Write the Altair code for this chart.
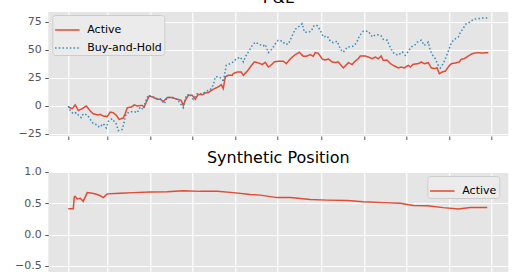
import altair as alt
import pandas as pd

# x values are days counted from 1 February; gridlines fall on month starts
month_starts = [0, 28, 59, 89, 120, 150, 181, 212, 242, 273, 303]

active_day = [0, 2.9, 5.0, 7.2, 10.0, 12.9, 15.8, 17.9, 20.8, 22.9,
              25.1, 27.9, 30.1, 32.2, 34.4, 36.5, 39.4, 40.8, 42.3, 45.1,
              47.3, 49.4, 53.0, 54.4, 55.9, 58.0, 60.9, 63.8, 65.9, 68.1,
              70.9, 74.5, 78.1, 80.9, 82.4, 83.8, 86.0, 88.8, 91.0, 93.1,
              96.0, 98.1, 100.3, 103.9, 107.4, 109.6, 111.0, 112.5, 114.6, 117.5,
              118.2, 121.1, 123.9, 125.4, 128.2, 130.4, 133.2, 136.1, 139.0, 141.1,
              143.3, 145.4, 147.6, 150.4, 154.0, 156.2, 159.0, 162.6, 165.5, 168.3,
              170.5, 173.4, 175.5, 176.9, 179.1, 181.9, 184.1, 186.2, 189.1, 191.3,
              193.4, 197.0, 198.4, 200.6, 203.4, 204.9, 207.7, 209.2, 212.8, 214.9,
              217.8, 219.9, 222.1, 224.2, 225.6, 228.5, 230.7, 232.8, 236.4, 238.5,
              240.7, 243.6, 245.0, 247.1, 250.7, 252.9, 255.0, 257.9, 260.0, 262.2,
              264.3, 265.8, 267.9, 270.1, 272.2, 274.4, 277.2, 280.1, 281.5, 283.7,
              286.5, 289.4, 293.0, 296.6, 300.9]
active_pnl = [-1, -2.4, 1, -4, -2.4, 0, -4.5, -7, -8, -7.5,
              -9, -9.5, -5.4, -6, -8.3, -12, -10.7, -6.8, -1.5, -1,
              1, 0, 0.5, -1, 3.6, 9, 7.7, 6, 6, 4,
              7.5, 7.5, 6, 5, 0.5, 5, 9.5, 9.5, 6, 10.4,
              10, 11.6, 12, 15, 17, 19, 15.5, 26, 27.4, 27.4,
              29, 30.4, 30.4, 27.4, 31, 34.8, 39.3, 38.5, 37, 39,
              34.8, 36.6, 39.3, 40, 40, 37.8, 42, 45.8, 48, 44.4,
              44.4, 45.8, 44.4, 47.6, 47, 42, 41, 42, 39.3, 38.7,
              39.3, 34, 35.7, 38.7, 37, 39.3, 42.2, 44.6, 44.6, 43.7,
              42.2, 43.7, 42.2, 44.6, 40.8, 40.8, 37.8, 36.3, 34, 34.8,
              34, 36.3, 34.8, 37.2, 37.8, 39.3, 37.8, 38.7, 34, 33.3,
              34, 28.8, 30.4, 31, 34.8, 37.8, 38.3, 39.3, 41.7, 42.2,
              44.6, 46.7, 47.6, 47.3, 47.6]

bh_day = [0, 1.4, 3.6, 5.7, 7.2, 9.3, 10.7, 13.6, 15.8, 17.9,
          20.8, 22.2, 25.1, 27.2, 28.7, 31.5, 33.0, 34.4, 35.8, 38.7,
          40.1, 41.5, 43.0, 45.8, 47.3, 49.4, 51.6, 53.7, 55.2, 57.3,
          60.9, 63.8, 65.9, 68.8, 70.9, 74.5, 78.1, 82.4, 84.5, 87.4,
          89.5, 92.4, 96.0, 98.1, 100.3, 101.7, 103.9, 105.3, 107.4, 110.3,
          111.0, 113.2, 116.0, 118.2, 120.3, 123.2, 125.4, 126.8, 128.9, 131.8,
          134.0, 136.8, 139.7, 141.1, 143.3, 146.1, 148.3, 150.4, 153.3, 155.4,
          157.6, 160.5, 162.6, 164.8, 167.6, 169.1, 171.9, 174.1, 176.2, 178.4,
          180.5, 182.7, 185.5, 187.7, 189.8, 192.7, 194.8, 197.0, 199.9, 203.4,
          204.9, 207.0, 208.5, 211.3, 214.9, 217.8, 219.9, 222.1, 224.2, 225.6,
          228.5, 229.9, 231.4, 233.5, 236.4, 239.3, 241.4, 243.6, 245.7, 247.9,
          250.7, 252.9, 255.0, 257.9, 259.3, 260.7, 262.9, 265.0, 266.5, 268.6,
          270.1, 272.2, 274.4, 276.5, 279.4, 280.8, 283.0, 285.1, 288.0, 290.1,
          293.7, 296.6, 300.1]
bh_pnl = [0, -4, -7, -6, -8, -10.4, -7, -8, -12, -15.8,
          -17, -19, -15.8, -19.6, -13.7, -11.3, -14, -16, -22, -21,
          -14, -7, -6, -5, -5, -6, -1, -3.3, 3.6, 9.5,
          8, 6.5, 6.5, 2, 7.5, 7.5, 6, -1.5, 9.5, 10.4,
          6, 11, 11, 12.5, 14, 14.6, 18.5, 26, 26, 24.4,
          21.4, 36.3, 37.8, 39.3, 42, 43.7, 39.3, 43.7, 48, 54,
          57, 55, 53.6, 55, 47.6, 51, 55.6, 58.7, 58, 55,
          55.3, 63, 68.5, 70.5, 73.5, 66, 65.7, 67, 72, 71.7,
          67.6, 61.6, 62.5, 57.8, 56.6, 57.8, 51, 48, 52.7, 53,
          54, 57.8, 62.5, 66.7, 66.7, 61.6, 63.5, 63.5, 62.5, 59.5,
          58.7, 54.2, 50.6, 46.7, 45.3, 48.2, 45.3, 48.8, 52.7, 54,
          57.8, 58.7, 54, 57, 49.7, 45.8, 42.2, 36.3, 34, 37.8,
          42.2, 48.8, 56.5, 59.5, 61.6, 65.5, 69.6, 73.5, 75, 77.4,
          78, 78.5, 78.5]

pos_day = [0, 3.6, 4.3, 5.0, 6.4, 8.6, 10.7, 13.6, 17.2, 20.8,
           22.9, 25.1, 27.9, 37.2, 46.6, 58.7, 70.9, 82.4, 94.6, 106.7,
           118.2, 130.4, 137.5, 149.7, 159.0, 173.4, 185.5, 199.9, 211.3, 225.6,
           237.8, 247.1, 257.2, 268.6, 279.4, 288.0, 300.1]
pos_val = [0.41, 0.41, 0.60, 0.61, 0.57, 0.58, 0.53, 0.67, 0.66, 0.64,
           0.62, 0.59, 0.65, 0.66, 0.67, 0.68, 0.685, 0.70, 0.69, 0.69,
           0.67, 0.64, 0.63, 0.59, 0.59, 0.56, 0.55, 0.545, 0.525, 0.51,
           0.50, 0.465, 0.46, 0.43, 0.41, 0.43, 0.43]

series_names = ["Active", "Buy-and-Hold"]
RED = "#E24A33"
BLUE = "#348ABD"
FONT = "DejaVu Sans"

pnl_df = pd.concat([
    pd.DataFrame({"day": active_day, "pnl": active_pnl, "series": "Active"}),
    pd.DataFrame({"day": bh_day, "pnl": bh_pnl, "series": "Buy-and-Hold"}),
], ignore_index=True)
pos_df = pd.DataFrame({"day": pos_day, "pos": pos_val, "series": "Active"})

x_enc = alt.X("day:Q",
              scale=alt.Scale(domain=[-14.3, 315.2], nice=False, zero=False),
              axis=alt.Axis(values=month_starts, labels=False, title=None))

legend_style = dict(orient="none", title=None, symbolType="stroke",
                    symbolSize=600, symbolStrokeWidth=1.5,
                    labelFont=FONT, labelFontSize=11, labelColor="black",
                    labelOffset=7, padding=2, rowPadding=-1,
                    fillColor="#ebebeb", strokeColor="#cccccc",
                    cornerRadius=3)

top = alt.Chart(pnl_df, title=alt.Title("P&L", fontSize=16, font=FONT,
                                         fontWeight="normal", color="black",
                                         offset=6)).mark_line(strokeWidth=1.5).encode(
    x=x_enc,
    y=alt.Y("pnl:Q", scale=alt.Scale(domain=[-26.8, 83.9], nice=False, zero=False),
            axis=alt.Axis(values=[-25, 0, 25, 50, 75], title=None)),
    color=alt.Color("series:N",
                    scale=alt.Scale(domain=series_names, range=[RED, BLUE]),
                    legend=alt.Legend(legendX=4, legendY=3, **legend_style)),
    strokeDash=alt.StrokeDash("series:N",
                              scale=alt.Scale(domain=series_names, range=[[1, 0], [1.5, 2.2]]),
                              legend=alt.Legend(legendX=4, legendY=3, **legend_style)),
).properties(width=460, height=124)

bottom = alt.Chart(pos_df, title=alt.Title("Synthetic Position", fontSize=16, font=FONT,
                                           fontWeight="normal", color="black",
                                           offset=0)).mark_line(strokeWidth=1.5).encode(
    x=x_enc,
    y=alt.Y("pos:Q", scale=alt.Scale(domain=[-1, 1], nice=False, zero=False),
            axis=alt.Axis(values=[-1, -0.5, 0, 0.5, 1], format=".1f", title=None)),
    color=alt.Color("series:N",
                    scale=alt.Scale(domain=["Active"], range=[RED]),
                    legend=alt.Legend(legendX=379, legendY=4, **legend_style)),
).properties(width=460, height=125)

chart = alt.vconcat(top, bottom, spacing=10).resolve_scale(
    color="independent", strokeDash="independent"
).resolve_legend(
    color="independent", strokeDash="independent"
).properties(
    padding={"left": 14.3, "top": -10, "right": 5, "bottom": 5},
    background="white",
).configure_view(
    fill="#E5E5E5", stroke=None
).configure_axis(
    grid=True, gridColor="white", gridWidth=1.2, domain=False,
    tickColor="#555555", tickSize=3.5, tickWidth=1,
    labelColor="#555555", labelFont=FONT, labelFontSize=11, labelPadding=3.5,
)

chart.save("out.html", embed_options={"renderer": "svg", "actions": False})
